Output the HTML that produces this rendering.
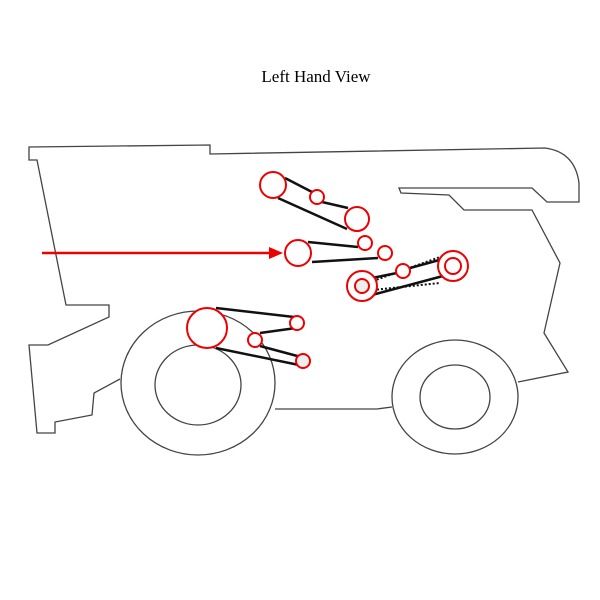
<!DOCTYPE html>
<html><head><style>html,body{margin:0;padding:0;background:#fff;}svg{display:block}</style></head>
<body>
<svg width="600" height="600" viewBox="0 0 600 600" xmlns="http://www.w3.org/2000/svg">
<rect width="600" height="600" fill="#fff"/>
<text x="316" y="82" font-family="Liberation Serif, serif" font-size="17" text-anchor="middle" fill="#000">Left Hand View</text>
<g fill="none" stroke="#444" stroke-width="1.3">
<path d="M120,379 L94,393 L92,415 L55,422 L55,433 L37,433 L29,345 L48,345 L109,317 L109,305 L66,305 L37,160 L29,160 L29,147 L210,145 L210,154 L545,148 Q575,152 579,183 L579,202 L547,202 L532,188 L399,188 L401,193 L449,195 L464,210 L532,210 L560,263 L544,333 L568,372 L518,382"/>
<path d="M392,407 L377,409 L275,409"/>
<ellipse cx="455" cy="397" rx="63" ry="57"/>
<ellipse cx="455" cy="397" rx="35" ry="32"/>
<ellipse cx="198" cy="383" rx="77" ry="72"/>
<ellipse cx="198" cy="385" rx="43" ry="40"/>
</g>
<g stroke="#111" stroke-width="2.5" fill="none">
<line x1="285" y1="178" x2="312" y2="192"/>
<line x1="322" y1="202" x2="348" y2="208"/>
<line x1="278" y1="198" x2="347" y2="229"/>
<line x1="308" y1="242" x2="358" y2="247"/>
<line x1="312" y1="262" x2="378" y2="258"/>
<line x1="372" y1="278" x2="397" y2="273"/>
<line x1="410" y1="268" x2="443" y2="259"/>
<line x1="372" y1="295" x2="443" y2="276"/>
<line x1="216" y1="308" x2="294" y2="317"/>
<line x1="260" y1="333" x2="296" y2="328"/>
<line x1="216" y1="348" x2="299" y2="365"/>
<line x1="260" y1="346" x2="301" y2="357"/>
</g>
<g stroke="#111" stroke-width="2" stroke-dasharray="2,2" fill="none">
<line x1="373" y1="281" x2="440" y2="257"/>
<line x1="373" y1="290" x2="440" y2="283"/>
</g>
<g stroke="#e00" stroke-width="2" fill="#fff">
<circle cx="273" cy="185" r="13"/>
<circle cx="317" cy="197" r="7"/>
<circle cx="357" cy="219" r="12"/>
<circle cx="298" cy="253" r="13"/>
<circle cx="365" cy="243" r="7"/>
<circle cx="385" cy="253" r="7"/>
<circle cx="362" cy="286" r="15"/>
<circle cx="362" cy="286" r="7" fill="#eee"/>
<circle cx="403" cy="271" r="7"/>
<circle cx="453" cy="266" r="15"/>
<circle cx="453" cy="266" r="8"/>
<circle cx="207" cy="328" r="20"/>
<circle cx="297" cy="323" r="7"/>
<circle cx="255" cy="340" r="7"/>
<circle cx="303" cy="361" r="7" fill="#eee"/>
</g>
<line x1="42" y1="253" x2="272" y2="253" stroke="#e00" stroke-width="2.5"/>
<polygon points="283,253 269,247 269,259" fill="#e00"/>
</svg>
</body></html>
